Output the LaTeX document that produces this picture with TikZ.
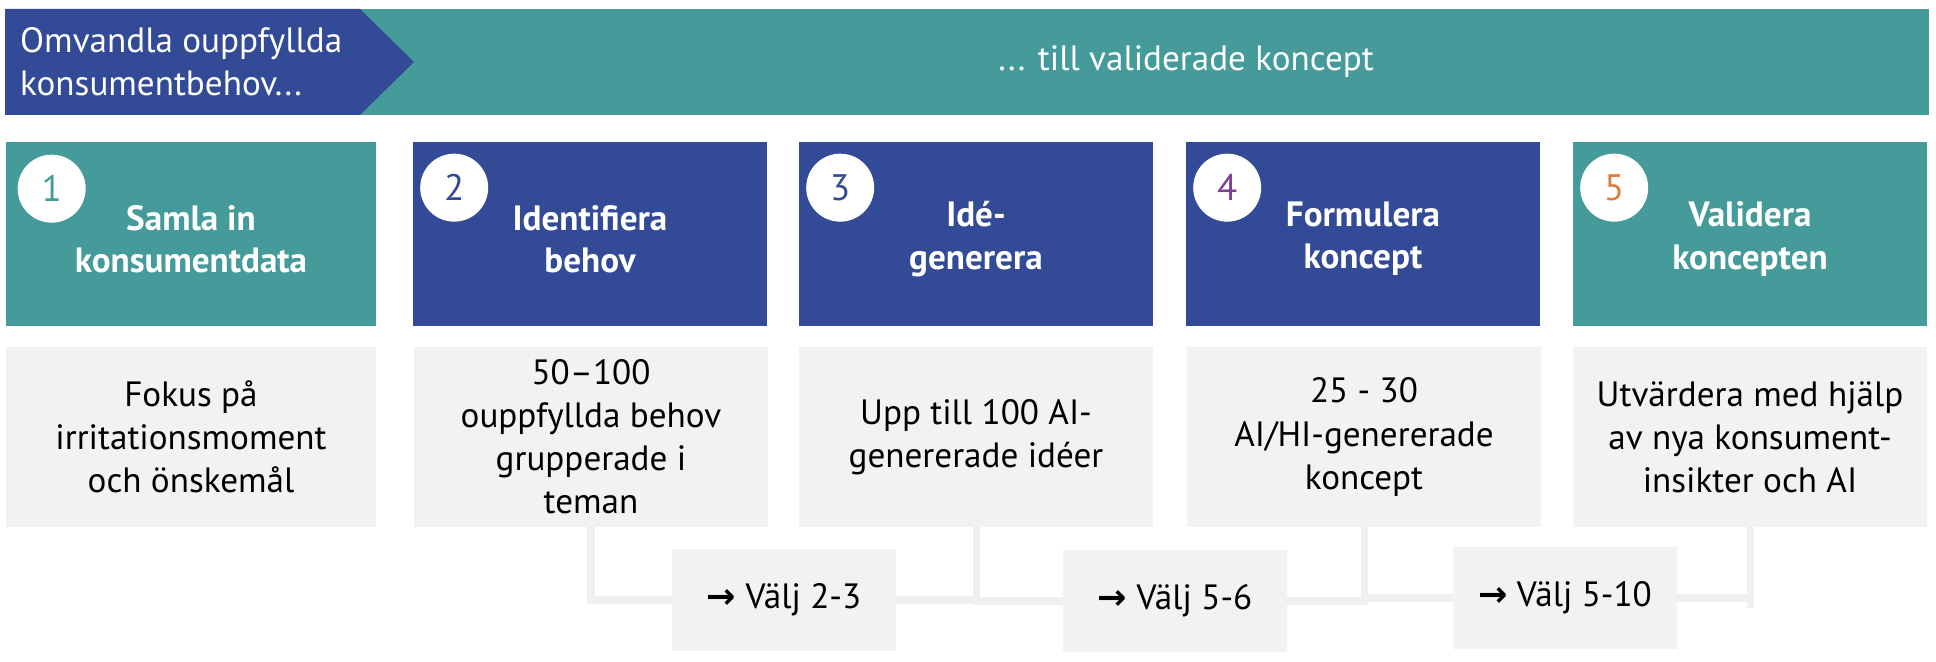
\documentclass[tikz,border=0pt]{standalone}
\usepackage{fontspec}
\setmainfont{PT Sans}
\newfontfamily\arrowfont{DejaVu Sans}
\usetikzlibrary{calc}

\definecolor{tealstep}{HTML}{459B99}
\definecolor{bluestep}{HTML}{334A97}
\definecolor{boxgray}{HTML}{F2F2F2}
\definecolor{linegray}{HTML}{F0F0F0}
\definecolor{numpurple}{HTML}{7B3F98}
\definecolor{numorange}{HTML}{E07B39}

\tikzset{
  stepbox/.style={minimum width=7.1cm, minimum height=3.68cm, text=white, align=center, font=\bfseries\fontsize{20}{24}\selectfont},
  infobox/.style={fill=boxgray, minimum width=7.1cm, minimum height=3.6cm, align=center, font=\fontsize{20}{24.5}\selectfont},
  numcircle/.style={circle, fill=white, minimum size=1.36cm, inner sep=0pt, font=\fontsize{21}{24}\selectfont},
  choicebox/.style={fill=boxgray, minimum width=4.48cm, minimum height=2.06cm, font=\fontsize{20}{24}\selectfont},
  link/.style={draw=linegray, line width=4pt}
}

\begin{document}
\begin{tikzpicture}[x=0.02cm,y=-0.02cm]

\useasboundingbox (0,0) rectangle (1936,662);

% banner
\fill[tealstep] (360,9) rectangle (1929,115);
\fill[bluestep] (5,9) -- (360,9) -- (414,62) -- (360,115) -- (5,115) -- cycle;
\node[anchor=west,text=white,align=left,font=\fontsize{20}{24.5}\selectfont] (from) at (14,62) {Omvandla ouppfyllda\\konsumentbehov...};
\node[text=white,font=\fontsize{20}{24}\selectfont] (to) at (1186,62) {... till validerade koncept};

% steps
\node[stepbox,fill=tealstep,minimum width=7.4cm] (s1) at (191,234) {};
\node[stepbox,fill=bluestep] (s2) at (590,234) {};
\node[stepbox,fill=bluestep] (s3) at (976,234) {};
\node[stepbox,fill=bluestep] (s4) at (1363,234) {};
\node[stepbox,fill=tealstep] (s5) at (1750,234) {};
% step titles, a bit below centre
\node[stepbox,minimum height=0pt] (t1) at ($(s1.center)+(0,5)$) {Samla in\\konsumentdata};
\node[stepbox,minimum height=0pt] (t2) at ($(s2.center)+(0,5)$) {Identifiera\\behov};
\node[stepbox,minimum height=0pt] (t3) at ($(s3.center)+(0,5)$) {Idé-\\generera};
\node[stepbox,minimum height=0pt] (t4) at ($(s4.center)+(0,5)$) {Formulera\\koncept};
\node[stepbox,minimum height=0pt] (t5) at ($(s5.center)+(0,5)$) {Validera\\koncepten};

% numbers
\node[numcircle,text=tealstep] (n1) at ($(s1.north west)+(46,47)$) {1};
\node[numcircle,text=bluestep] (n2) at ($(s2.north west)+(42,46)$) {2};
\node[numcircle,text=bluestep] (n3) at ($(s3.north west)+(42,46)$) {3};
\node[numcircle,text=numpurple] (n4) at ($(s4.north west)+(42,46)$) {4};
\node[numcircle,text=numorange] (n5) at ($(s5.north west)+(42,46)$) {5};

% details
\node[infobox,minimum width=7.4cm] (g1) at (191,437) {Fokus på\\irritationsmoment\\och önskemål};
\node[infobox] (g2) at (591,437) {50–100\\ouppfyllda behov\\grupperade i\\teman};
\node[infobox] (g3) at (976,437) {Upp till 100 AI-\\genererade idéer};
\node[infobox] (g4) at (1364,437) {25 - 30\\AI/HI-genererade\\koncept};
\node[infobox] (g5) at (1750,437) {Utvärdera med hjälp\\av nya konsument-\\insikter och AI};

% choices
\node[choicebox] (v1) at (784,600) {{\arrowfont\bfseries →} Välj 2-3};
\node[choicebox] (v2) at (1175,601) {{\arrowfont\bfseries →} Välj 5-6};
\node[choicebox] (v3) at (1565,598) {{\arrowfont\bfseries →} Välj 5-10};

\coordinate (tick) at ($(g5.south)+(0,81)$);

\draw[link] (g2.south) |- (v1.west);
\draw[link] (v1.east) -| (g3.south);
\draw[link] (g3.south) |- (v2.west);
\draw[link] (v2.east) -| (g4.south);
\draw[link] (g4.south) |- (v3.west);
\draw[link] (v3.east) -| (g5.south);
\draw[link] (g5.south) -- (tick);

\end{tikzpicture}
\end{document}
